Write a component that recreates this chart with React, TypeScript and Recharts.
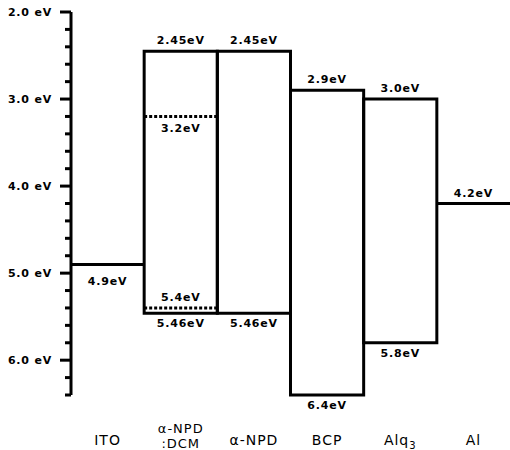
import React from "react";
import {
  ComposedChart,
  XAxis,
  YAxis,
  ReferenceArea,
  ReferenceLine,
} from "recharts";

// layer stack, left to right (one column per layer)
const materials = ["ITO", "α-NPD:DCM", "α-NPD", "BCP", "Alq3", "Al"];
// LUMO / HOMO of the organic layers (eV below vacuum), null for electrodes
const lumo = [null, 2.45, 2.45, 2.9, 3.0, null];
const homo = [null, 5.46, 5.46, 6.4, 5.8, null];
// electrode work functions
const workFunction = [4.9, null, null, null, null, 4.2];
// DCM dopant levels inside the α-NPD host (column 1)
const dopantColumn = 1;
const dopantLevels = [3.2, 5.4];

const energyTicks = [
  2.0, 2.2, 2.4, 2.6, 2.8, 3.0, 3.2, 3.4, 3.6, 3.8, 4.0, 4.2,
  4.4, 4.6, 4.8, 5.0, 5.2, 5.4, 5.6, 5.8, 6.0, 6.2, 6.4,
];
const columnTicks = [0.5, 1.5, 2.5, 3.5, 4.5, 5.5];

const rows = materials.map((name, i) => ({
  x: columnTicks[i],
  name,
  lumo: lumo[i],
  homo: homo[i],
  wf: workFunction[i],
}));

const LABEL_FONT = "'DejaVu Sans', sans-serif";
const INK = "#000";

const fmt = (v: number) =>
  (Number.isInteger(Math.round(v * 1000) / 100) ? v.toFixed(1) : v.toFixed(2)) + "eV";

function ValueText({ x, y, text }: { x: number; y: number; text: string }) {
  return (
    <text
      x={x}
      y={y}
      textAnchor="middle"
      fontFamily={LABEL_FONT}
      fontWeight="bold"
      fontSize={11}
      letterSpacing={0.8}
      fill={INK}
    >
      {text}
    </text>
  );
}

// labels above the top edge and below the bottom edge of a box / line
const edgeLabels =
  (top: string | null, bottom: string | null, below = 15) =>
  (props: any) => {
    const vb = props.viewBox || {};
    const cx = vb.x + vb.width / 2;
    return (
      <g>
        {top && <ValueText x={cx} y={vb.y - 7} text={top} />}
        {bottom && <ValueText x={cx} y={vb.y + vb.height + below} text={bottom} />}
      </g>
    );
  };

function EnergyTick({ x, y, payload }: any) {
  const v = payload.value as number;
  const major = Math.abs(v - Math.round(v)) < 1e-6;
  return (
    <g>
      <line x1={x - (major ? 11 : 6)} x2={x} y1={y} y2={y} stroke={INK} strokeWidth={3} />
      {major && (
        <text
          x={x - 19}
          y={y + 4}
          textAnchor="end"
          fontFamily={LABEL_FONT}
          fontWeight="bold"
          fontSize={11}
          letterSpacing={0.8}
          fill={INK}
        >
          {`${v.toFixed(1)} eV`}
        </text>
      )}
    </g>
  );
}

function MaterialTick({ x, y, payload }: any) {
  const name = materials[Math.floor(payload.value)] ?? "";
  const common = {
    textAnchor: "middle" as const,
    fontFamily: LABEL_FONT,
    fontSize: 14,
    letterSpacing: 1,
    fill: INK,
  };
  if (name.includes(":")) {
    const [host, guest] = name.split(":");
    return (
      <g>
        <text x={x} y={y + 38} {...common} fontSize={13}>{host}</text>
        <text x={x} y={y + 53} {...common} fontSize={13}>{":" + guest}</text>
      </g>
    );
  }
  const m = name.match(/^(.*?)(\d+)$/);
  return (
    <text x={x} y={y + 50} {...common}>
      {m ? (
        <>
          {m[1]}
          <tspan fontSize={10} dy={4}>{m[2]}</tspan>
        </>
      ) : (
        name
      )}
    </text>
  );
}

export default function App() {
  return (
    <div style={{ position: "absolute", left: 0, top: 0, background: "#fff" }}>
      <ComposedChart
        width={510}
        height={450}
        data={rows}
        margin={{ top: 12, right: 0, bottom: 0, left: 0 }}
      >
        <XAxis
          type="number"
          dataKey="x"
          domain={[0, materials.length]}
          allowDataOverflow
          ticks={columnTicks}
          interval={0}
          axisLine={false}
          tickLine={false}
          tickSize={0}
          tickMargin={0}
          height={55}
          tick={<MaterialTick />}
        />
        <YAxis
          type="number"
          dataKey="lumo"
          reversed
          domain={[2, 6.4]}
          allowDataOverflow
          ticks={energyTicks}
          interval={0}
          width={71}
          axisLine={{ stroke: INK, strokeWidth: 3 }}
          tickLine={false}
          tickSize={0}
          tickMargin={0}
          tick={<EnergyTick />}
        />

        {materials.map((m, i) =>
          lumo[i] != null && homo[i] != null ? (
            <ReferenceArea
              key={"box-" + m}
              x1={i}
              x2={i + 1}
              y1={lumo[i] as number}
              y2={homo[i] as number}
              fill="none"
              fillOpacity={0}
              stroke={INK}
              strokeWidth={3}
              strokeOpacity={1}
              label={edgeLabels(fmt(lumo[i] as number), fmt(homo[i] as number), 14)}
            />
          ) : null
        )}

        {materials.map((m, i) =>
          workFunction[i] != null ? (
            <ReferenceLine
              key={"wf-" + m}
              segment={[
                { x: i, y: workFunction[i] as number },
                { x: i + 1, y: workFunction[i] as number },
              ]}
              stroke={INK}
              strokeWidth={3}
              label={
                i === 0
                  ? edgeLabels(null, fmt(workFunction[i] as number), 21)
                  : edgeLabels(fmt(workFunction[i] as number), null)
              }
            />
          ) : null
        )}

        {dopantLevels.map((v, k) => (
          <ReferenceLine
            key={"dop-" + v}
            segment={[
              { x: dopantColumn, y: v },
              { x: dopantColumn + 1, y: v },
            ]}
            stroke={INK}
            strokeWidth={3}
            strokeDasharray="3 2"
            label={k === 0 ? edgeLabels(null, fmt(v), 16) : edgeLabels(fmt(v), null)}
          />
        ))}
      </ComposedChart>
    </div>
  );
}
